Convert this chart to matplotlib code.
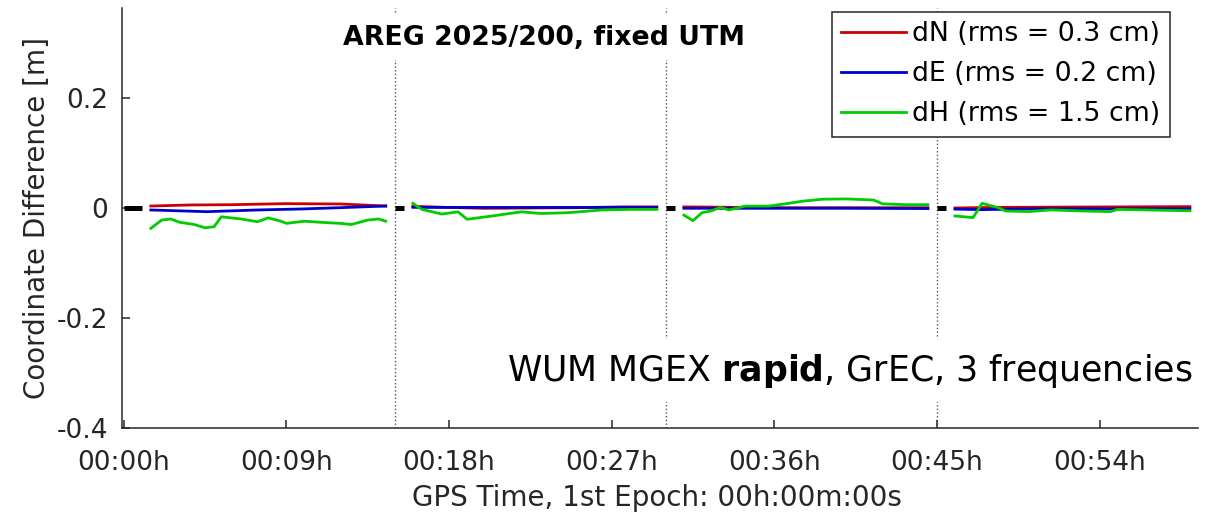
import numpy as np
import matplotlib
matplotlib.use('Agg')
import matplotlib.pyplot as plt

# ── DATA (time in minutes after 00:00, differences in cm) ────────────────────
gap = np.nan

t_N = [1.5, 3.7, 6.0, 8.9, 12.0, 14.5, gap,
       16.0, 18.0, 20.0, 22.5, 25.0, 27.5, 29.5, gap,
       31.0, 33.0, 35.0, 40.0, 44.5, gap,
       46.0, 48.0, 51.0, 55.0, 59.0]
dN = [0.36, 0.55, 0.6, 0.79, 0.73, 0.36, gap,
      0.3, 0.1, -0.06, 0.0, 0.05, 0.2, 0.2, gap,
      0.2, 0.15, 0.05, 0.05, 0.05, gap,
      0.0, 0.1, 0.15, 0.2, 0.25]

t_E = [1.5, 4.6, 7.4, 9.8, 12.0, 14.5, gap,
       16.0, 20.0, 25.0, 29.5, gap,
       31.0, 35.0, 40.0, 44.5, gap,
       46.0, 47.5, 50.0, 55.0, 59.0]
dE = [-0.36, -0.67, -0.36, -0.18, 0.06, 0.36, gap,
      0.12, 0.1, 0.1, 0.1, gap,
      -0.05, -0.05, -0.05, -0.1, gap,
      -0.2, -0.3, -0.15, -0.15, -0.15]

t_H = [1.5, 2.1, 2.6, 3.1, 3.9, 4.5, 5.0, 5.4, 6.5, 7.4, 8.0, 8.7, 9.0, 10.0,
       10.9, 12.0, 12.6, 13.5, 14.1, 14.5, gap,
       16.0, 16.5, 17.6, 18.5, 19.0, 20.4, 22.0, 23.1, 24.6, 26.5, 28.1, 29.5, gap,
       31.0, 31.5, 32.0, 32.5, 33.0, 33.5, 34.4, 35.7, 36.6, 37.6, 38.7, 40.0,
       41.5, 42.0, 43.3, 44.5, gap,
       46.0, 47.0, 47.5, 48.4, 48.8, 50.1, 51.3, 53.1, 54.6, 55.0, 56.5, 59.0]
dH = [-3.7, -2.2, -2.0, -2.6, -3.0, -3.6, -3.4, -1.6, -2.0, -2.5, -1.8, -2.4, -2.8, -2.4,
      -2.6, -2.8, -3.0, -2.2, -2.0, -2.4, gap,
      0.85, -0.25, -1.1, -0.7, -2.05, -1.45, -0.7, -1.0, -0.85, -0.35, -0.25, -0.25, gap,
      -1.3, -2.3, -0.85, -0.55, 0.1, -0.35, 0.35, 0.35, 0.75, 1.25, 1.6, 1.65,
      1.45, 0.75, 0.6, 0.6, gap,
      -1.45, -1.75, 0.85, 0.05, -0.55, -0.65, -0.35, -0.55, -0.65, -0.25, -0.35, -0.5]

labels = ["dN (rms = 0.3 cm)", "dE (rms = 0.2 cm)", "dH (rms = 1.5 cm)"]

resets = [15, 30, 45]                  # re-initialisation epochs
conv_start = [0, 15, 30, 45]           # zero-line marks during convergence
conv_end = [1.0, 15.5, 30.5, 45.5]

x_ticks = [0, 9, 18, 27, 36, 45, 54]
y_ticks = [-0.4, -0.2, 0, 0.2]

# ── FIGURE ──────────────────────────────────────────────────────────────────
plt.rcParams['font.family'] = ['DejaVu Sans']
axc = '#262626'

fig = plt.figure(figsize=(12.1, 5.19), dpi=100)
ax = fig.add_axes([0.1006, 0.1753, 0.8895, 0.8093])

for r in resets:
    ax.axvline(r, color='#555555', linestyle=':', linewidth=1.0, zorder=1)

ax.hlines([0] * len(conv_start), conv_start, conv_end, colors='black',
          linewidth=3.6, zorder=2)

cm = 0.01
ax.plot(t_N, np.array(dN) * cm, color=(0.8, 0, 0), linewidth=2.0, label=labels[0], zorder=3)
ax.plot(t_E, np.array(dE) * cm, color=(0, 0, 0.8), linewidth=2.0, label=labels[1], zorder=3)
ax.plot(t_H, np.array(dH) * cm, color=(0, 0.8, 0), linewidth=2.0, label=labels[2], zorder=3)

ax.set_xlim(-0.11, 59.45)
ax.set_ylim(-0.4, 0.3636)

ax.set_xticks(x_ticks)
ax.set_xticklabels([f"00:{m:02d}h" for m in x_ticks])
ax.set_yticks(y_ticks)
ax.set_yticklabels([f"{v:g}" for v in y_ticks])
ax.tick_params(direction='in', length=6, width=1.1, colors=axc,
               labelsize=19, pad=10)
ax.tick_params(axis='x', pad=16)

for s in ['top', 'right']:
    ax.spines[s].set_visible(False)
for s in ['left', 'bottom']:
    ax.spines[s].set_color(axc)
    ax.spines[s].set_linewidth(1.1)

ax.set_xlabel("GPS Time, 1st Epoch: 00h:00m:00s", fontsize=20, color=axc)
ax.set_ylabel("Coordinate Difference [m]", fontsize=20, color=axc)
ax.yaxis.set_label_coords(-0.0655, 0.5)
ax.xaxis.set_label_coords(0.497, -0.133)

ax.text(0.3924, 0.929, "AREG 2025/200, fixed UTM", transform=ax.transAxes,
        ha='center', va='center', fontsize=19.3, fontweight='bold',
        bbox=dict(facecolor='white', edgecolor='none', pad=7), zorder=5)

ax.text(0.9944, 0.136,
        r"WUM MGEX $\mathbf{rapid}$, GrEC, 3 frequencies",
        transform=ax.transAxes, ha='right', va='center', fontsize=25,
        bbox=dict(facecolor='white', edgecolor='none', pad=9), zorder=5)

leg = ax.legend(loc='upper right', bbox_to_anchor=(1170 / 1210, 1 - 12 / 519),
                bbox_transform=fig.transFigure, fontsize=19.3, fancybox=False,
                framealpha=1, edgecolor=axc, handlelength=2.4,
                handletextpad=0.25, labelspacing=0.52, borderpad=0.35,
                borderaxespad=0)
leg.get_frame().set_linewidth(1.1)
leg.set_zorder(6)

plt.savefig("out.png", dpi=100)
plt.close()
